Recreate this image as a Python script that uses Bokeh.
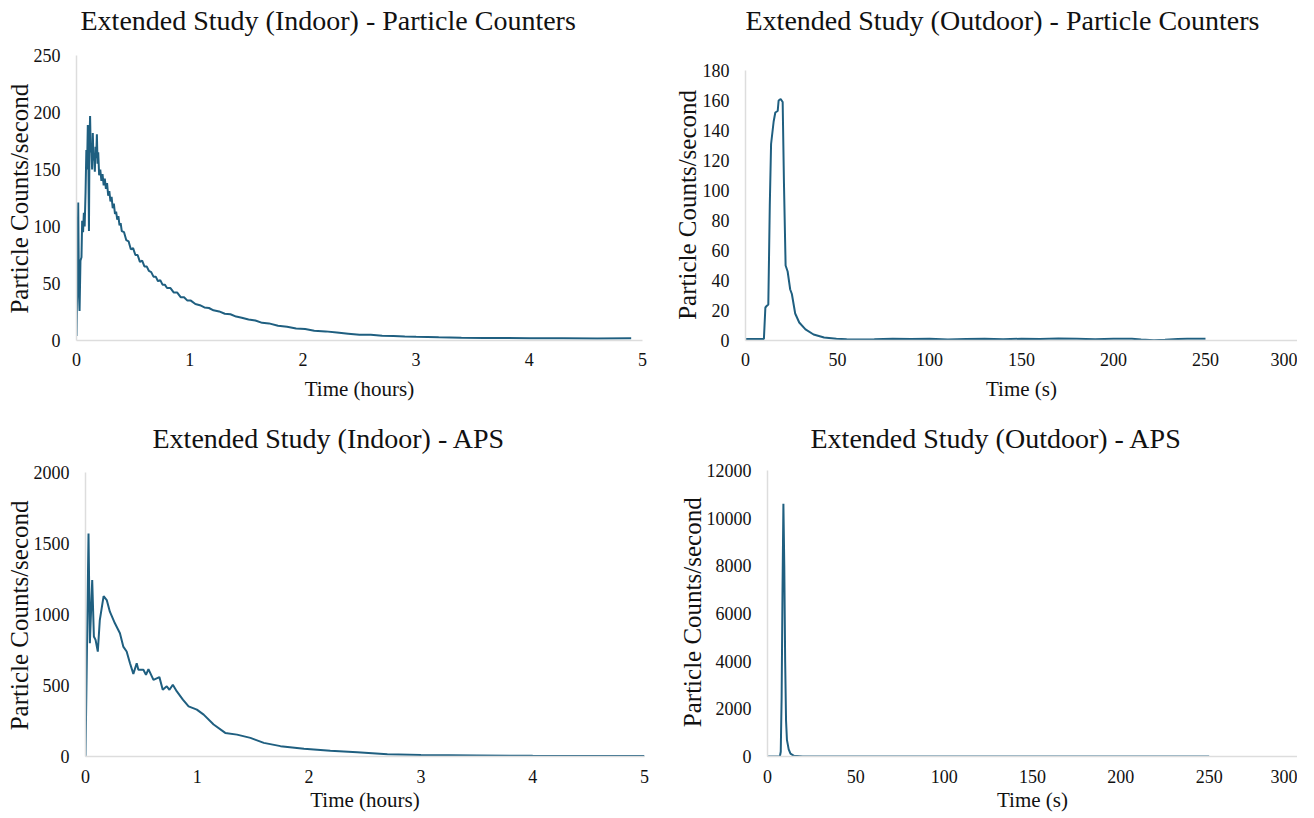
from bokeh.plotting import figure
from bokeh.layouts import column, row
from bokeh.models import Range1d, FixedTicker, Label
from bokeh.embed import file_html
from bokeh.resources import INLINE

# ---- data ----
indoor_pc = [(0, 4), (0.008, 60), (0.015, 121), (0.022, 40), (0.027, 26), (0.035, 70), (0.044, 73),
             (0.05, 105), (0.058, 95), (0.065, 112), (0.072, 100), (0.08, 130), (0.087, 167), (0.093, 150),
             (0.1, 189), (0.105, 160), (0.11, 96), (0.115, 175), (0.12, 197), (0.126, 165), (0.132, 170),
             (0.138, 150), (0.144, 182), (0.15, 158), (0.156, 164), (0.162, 148), (0.168, 170), (0.174, 160),
             (0.18, 181), (0.186, 155), (0.192, 165), (0.2, 145), (0.21, 150), (0.22, 140), (0.23, 146),
             (0.24, 136), (0.25, 142), (0.26, 133), (0.27, 138), (0.28, 127), (0.29, 131), (0.30, 122),
             (0.31, 126), (0.32, 116), (0.33, 120), (0.34, 111), (0.35, 113), (0.36, 106), (0.37, 109),
             (0.38, 101), (0.39, 103), (0.40, 96), (0.42, 95), (0.44, 88), (0.46, 87), (0.48, 80), (0.50, 81),
             (0.52, 75), (0.54, 75), (0.56, 69), (0.58, 70), (0.60, 65), (0.62, 65), (0.64, 61), (0.66, 60),
             (0.68, 56), (0.70, 56), (0.72, 52), (0.74, 53), (0.76, 49), (0.78, 49), (0.80, 46), (0.83, 46),
             (0.86, 42), (0.89, 42), (0.92, 38), (0.95, 38), (0.98, 35), (1.01, 35), (1.05, 32), (1.09, 31),
             (1.13, 29), (1.17, 28.5), (1.21, 26.5), (1.26, 25.5), (1.31, 23.5), (1.36, 23), (1.41, 21),
             (1.46, 20), (1.52, 18.5), (1.58, 17.5), (1.64, 15.5), (1.7, 15), (1.78, 13), (1.86, 12),
             (1.94, 10.5), (2.02, 10), (2.1, 8.5), (2.2, 8), (2.3, 7), (2.4, 6), (2.5, 5), (2.6, 5), (2.7, 4.2),
             (2.8, 4), (2.9, 3.5), (3.0, 3.2), (3.2, 2.8), (3.4, 2.5), (3.6, 2.3), (3.8, 2.1), (4.0, 2),
             (4.3, 1.9), (4.6, 1.8), (4.9, 1.9)]

outdoor_pc = [(0, 1), (5, 1), (10, 1), (10.8, 22), (11.5, 23), (12.4, 24), (13.2, 90), (13.9, 131),
              (15.3, 146), (16.2, 152), (17.5, 153), (18, 160), (19.1, 161), (20.2, 159), (20.9, 105),
              (21.8, 50), (22.9, 46), (24.3, 34), (25.2, 31), (27, 18), (29.2, 12), (32.6, 7.4), (37, 4),
              (42.7, 2), (49.4, 1.2), (55, 0.9), (60, 0.7), (70, 0.8), (80, 1.1), (90, 1.0), (100, 1.2),
              (110, 0.7), (120, 1.0), (130, 1.2), (140, 0.8), (150, 1.2), (160, 1.0), (170, 1.3), (180, 1.1),
              (190, 0.9), (200, 1.2), (210, 1.1), (215, 0.6), (222, 0.1), (228, 0.5), (235, 1.0), (240, 1.1),
              (250, 1.2)]

indoor_aps = [(0, 0), (0.027, 1570), (0.039, 798), (0.06, 1242), (0.075, 845), (0.09, 821), (0.11, 739),
              (0.128, 961), (0.162, 1130), (0.19, 1102), (0.218, 1020), (0.263, 938), (0.308, 868),
              (0.338, 774), (0.368, 739), (0.398, 657), (0.428, 582), (0.458, 657), (0.473, 611),
              (0.518, 611), (0.541, 575), (0.563, 615), (0.608, 540), (0.661, 559), (0.691, 470),
              (0.727, 494), (0.751, 470), (0.781, 505), (0.817, 458), (0.871, 400), (0.922, 353),
              (0.996, 330), (1.057, 295), (1.146, 225), (1.25, 166), (1.355, 154), (1.475, 131),
              (1.595, 96), (1.744, 73), (1.954, 54), (2.19, 40), (2.43, 30), (2.7, 15), (3.0, 10),
              (3.5, 7), (4.0, 5), (4.5, 4), (5.0, 3)]

outdoor_aps = [(0, 0), (7, 0), (7.5, 200), (8, 2500), (8.5, 7000), (9, 10600), (9.5, 8000), (10, 4000),
               (10.5, 1500), (11, 700), (12, 300), (13, 120), (15, 30), (20, 5), (250, 5)]

titles = ["Extended Study (Indoor) - Particle Counters", "Extended Study (Outdoor) - Particle Counters",
          "Extended Study (Indoor) - APS", "Extended Study (Outdoor) - APS"]
x_labels = ["Time (hours)", "Time (s)", "Time (hours)", "Time (s)"]
y_label = "Particle Counts/second"
x_ticks_hours = [0, 1, 2, 3, 4, 5]
x_ticks_s = [0, 50, 100, 150, 200, 250, 300]
y_ticks = [[0, 50, 100, 150, 200, 250], [0, 20, 40, 60, 80, 100, 120, 140, 160, 180],
           [0, 500, 1000, 1500, 2000], [0, 2000, 4000, 6000, 8000, 10000, 12000]]

LINE = "#1f5f80"
FONT = "Liberation Serif"
TXT = "#111111"
YLAB_PX = 25
NBSP_W = 0.25 * YLAB_PX   # width of a no-break space in the serif font


def make(data, title, xlab, xticks, yticks, frame_w, axis_h, head_h, borders, title_xy, xstand, ylabstand):
    """axis_h: pixel height of the y-axis span; head_h: room above it (inside the frame) for the title."""
    xs = [d[0] for d in data]
    ys = [d[1] for d in data]
    bl, br, bb = borders
    frame_h = axis_h + head_h
    ymax = yticks[-1]
    y_end = ymax * frame_h / axis_h
    p = figure(frame_width=frame_w, frame_height=frame_h, output_backend="svg", toolbar_location=None,
               x_range=Range1d(xticks[0], xticks[-1]), y_range=Range1d(yticks[0], y_end),
               min_border_left=bl, min_border_right=br, min_border_top=0, min_border_bottom=bb,
               title=None)
    p.line(xs, ys, line_color=LINE, line_width=2)
    p.add_layout(Label(x=title_xy[0], y=frame_h - title_xy[1], x_units="screen", y_units="screen",
                       text=title, text_font=FONT, text_font_size="28px", text_color=TXT,
                       text_align="left", text_baseline="middle"))
    p.outline_line_color = None
    p.xgrid.visible = False
    p.ygrid.visible = False
    for ax in (p.xaxis[0], p.yaxis[0]):
        ax.major_tick_line_color = None
        ax.minor_tick_line_color = None
        ax.major_tick_out = 0
        ax.major_tick_in = 0
        ax.major_label_text_font = FONT
        ax.major_label_text_font_size = "18px"
        ax.major_label_text_color = TXT
        ax.axis_label_text_font = FONT
        ax.axis_label_text_font_style = "normal"
        ax.axis_label_text_color = TXT
        ax.axis_line_color = "#dddddd"
        ax.axis_line_width = 1.5
    p.yaxis[0].bounds = (yticks[0], ymax)
    p.xaxis[0].axis_label_text_font_size = "21px"
    p.yaxis[0].axis_label_text_font_size = f"{YLAB_PX}px"
    p.xaxis[0].ticker = FixedTicker(ticks=xticks)
    p.yaxis[0].ticker = FixedTicker(ticks=yticks)
    p.xaxis[0].axis_label = xlab
    # the axis label is centred on the whole frame; pad its end so the words sit centred on the axis span
    pad = "\u00a0" * round(head_h / NBSP_W)
    p.yaxis[0].axis_label = y_label + pad
    p.xaxis[0].major_label_standoff = xstand[0]
    p.xaxis[0].axis_label_standoff = xstand[1]
    p.yaxis[0].major_label_standoff = 16
    p.yaxis[0].axis_label_standoff = ylabstand
    return p


# borders: (left, right, bottom); title_xy: (from frame left, from frame top)
p1 = make(indoor_pc, titles[0], x_labels[0], x_ticks_hours, y_ticks[0], 566, 285, 55,
          (76, 8, 65), (4, 20), (12, 8), -2)
p2 = make(outdoor_pc, titles[1], x_labels[1], x_ticks_s, y_ticks[1], 552, 270, 70,
          (95, 0, 65), (0, 20), (12, 8), -1)
p3 = make(indoor_aps, titles[2], x_labels[2], x_ticks_hours, y_ticks[2], 559, 284, 67,
          (85, 6, 60), (67, 33), (13, 2), -2)
p4 = make(outdoor_aps, titles[3], x_labels[3], x_ticks_s, y_ticks[3], 530, 286, 65,
          (117, 0, 60), (43, 33), (13, 2), -2)

layout = column(row(p1, p2), row(p3, p4))
open("out.html", "w").write(file_html(layout, INLINE))
